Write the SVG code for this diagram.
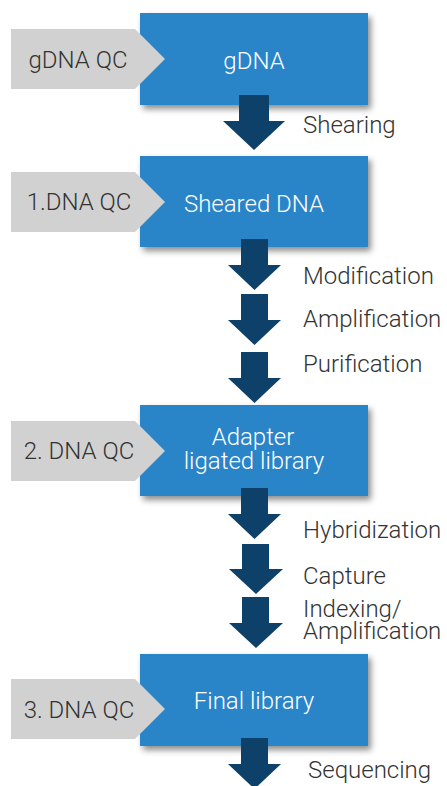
<svg xmlns="http://www.w3.org/2000/svg" width="447" height="786" viewBox="0 0 447 786">
<defs>
<filter id="sh" x="-10%" y="-10%" width="130%" height="140%">
<feDropShadow dx="3" dy="4" stdDeviation="3" flood-color="#000" flood-opacity="0.45"/>
</filter>
</defs>
<style>
.box{fill:#2a84c8;filter:url(#sh)}
.qc{fill:#d1d1d1}
.arr{fill:#0d4169}
text{font-family:Roboto,"Liberation Sans",sans-serif;font-weight:300;font-size:24px}
.wt{fill:#ffffff;text-anchor:middle}
.qt{fill:#333333;text-anchor:middle}
.lb{fill:#333333}
</style>
<rect width="447" height="786" fill="#ffffff"/>
<g id="node-gdna">
<rect class="box" x="140" y="13" width="228" height="92"/>
<text class="wt" x="254" y="69">gDNA</text>
</g>
<g id="qc-gdna">
<polygon class="qc" points="11,29 135,29 165,59 135,89 11,89"/>
<text class="qt" x="78" y="68">gDNA QC</text>
</g>
<g id="node-sheared">
<rect class="box" x="140" y="156" width="228" height="91"/>
<text class="wt" x="254" y="212">Sheared DNA</text>
</g>
<g id="qc-1">
<polygon class="qc" points="11,172 135,172 165,202 135,232 11,232"/>
<text class="qt" x="79" y="210">1.DNA QC</text>
</g>
<g id="node-adapter">
<rect class="box" x="140" y="405" width="228" height="91"/>
<text class="wt" x="253" y="445">Adapter</text>
<text class="wt" x="254" y="469">ligated library</text>
</g>
<g id="qc-2">
<polygon class="qc" points="11,421 135,421 165,451 135,481 11,481"/>
<text class="qt" x="79" y="459">2. DNA QC</text>
</g>
<g id="node-final">
<rect class="box" x="140" y="654" width="228" height="92"/>
<text class="wt" x="254" y="709">Final library</text>
</g>
<g id="qc-3">
<polygon class="qc" points="11,679 135,679 165,709 135,739 11,739"/>
<text class="qt" x="79" y="718">3. DNA QC</text>
</g>
<g id="connectors">
<polygon class="arr" points="239,95 269,95 269,121 285,121 254,150 223,121 239,121"/>
<polygon class="arr" points="241,239 268,239 268,265 281,265 254.5,290 228,265 241,265"/>
<polygon class="arr" points="241,294 268,294 268,320 281,320 254.5,345 228,320 241,320"/>
<polygon class="arr" points="241,352 268,352 268,378 281,378 254.5,403 228,378 241,378"/>
<polygon class="arr" points="241,488 268,488 268,514 281,514 254.5,539 228,514 241,514"/>
<polygon class="arr" points="242,544 269,544 269,569 283,569 256,594 229,569 242,569"/>
<polygon class="arr" points="242,597 269,597 269,623 283,623 256,648 229,623 242,623"/>
<polygon class="arr" points="241,738 268,738 268,764 281,764 254.5,789 228,764 241,764"/>
</g>
<g id="labels">
<text class="lb" x="303" y="133">Shearing</text>
<text class="lb" x="303" y="284">Modification</text>
<text class="lb" x="303" y="327">Amplification</text>
<text class="lb" x="303" y="372">Purification</text>
<text class="lb" x="303" y="538">Hybridization</text>
<text class="lb" x="303" y="584">Capture</text>
<text class="lb" x="303" y="617">Indexing/</text>
<text class="lb" x="303" y="639">Amplification</text>
<text class="lb" x="308" y="778">Sequencing</text>
</g>
</svg>
